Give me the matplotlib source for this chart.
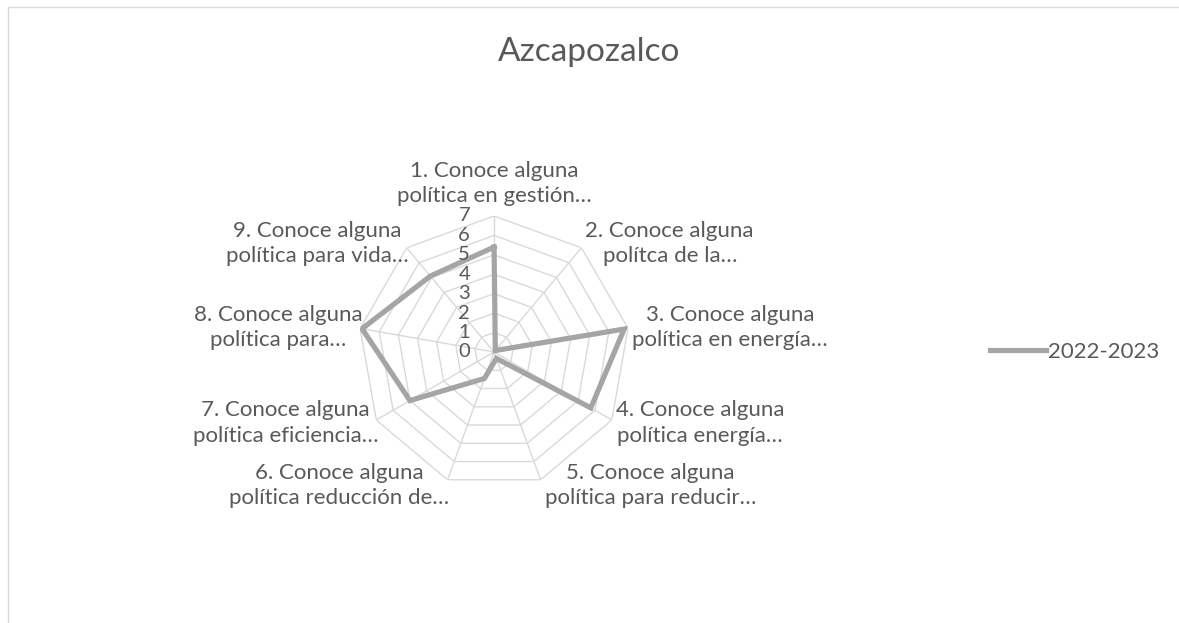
import numpy as np
import matplotlib.pyplot as plt

# data
categories = [
    "1. Conoce alguna\npolítica en gestión…",
    "2. Conoce alguna\npolítca de la…",
    "3. Conoce alguna\npolítica en energía…",
    "4. Conoce alguna\npolítica energía…",
    "5. Conoce alguna\npolítica para reducir…",
    "6. Conoce alguna\npolítica reducción de…",
    "7. Conoce alguna\npolítica eficiencia…",
    "8. Conoce alguna\npolítica para…",
    "9. Conoce alguna\npolítica para vida…",
]
values_2022 = [5.4, 0.1, 6.8, 5.75, 0.35, 1.45, 5.0, 6.9, 5.1]
series_name = "2022-2023"
ticks = [0, 1, 2, 3, 4, 5, 6, 7]

text_col = "#595959"
grid_col = "#d9d9d9"
line_col = "#a5a5a5"
plt.rcParams['font.family'] = ['Lato', 'DejaVu Sans']

fig = plt.figure(figsize=(11.79, 6.23), dpi=100)

# chart frame
fig.patches.append(plt.Rectangle((8 / 1179, -0.1), 1.2, 1 - 7 / 623 + 0.1,
                                 transform=fig.transFigure, fill=False,
                                 edgecolor=grid_col, lw=1))

fig.text(0.5, 1 - 52 / 623, "Azcapozalco", ha="center", va="center",
         fontsize=24, color=text_col)

ax = fig.add_axes([0.3037, 0.2167, 0.2307, 0.4366], projection="polar")
ax.set_theta_offset(np.pi / 2)
ax.set_theta_direction(-1)
ax.set_ylim(0, 7)
ax.grid(False)
ax.spines["polar"].set_visible(False)
ax.set_xticks([])
ax.set_yticks([])
ax.patch.set_alpha(0)

n = len(categories)
angles = np.arange(n) * 2 * np.pi / n
closed = np.append(angles, angles[0])

# polygon grid
for t in ticks[1:]:
    ax.plot(closed, [t] * (n + 1), color=grid_col, lw=1.0, zorder=1)
for a in angles:
    ax.plot([a, a], [0, ticks[-1]], color=grid_col, lw=1.0, zorder=1)

# series
vals = values_2022 + values_2022[:1]
ax.plot(closed, vals, color=line_col, lw=3.75, solid_joinstyle="miter",
        zorder=3, label=series_name)

# radial tick labels
for t in ticks:
    ax.annotate(str(t), xy=(0, t), xytext=(-24, 0), textcoords="offset pixels",
                ha="right", va="center", fontsize=14.5, color=text_col)

# category labels
for a, lab in zip(angles, categories):
    s, c = np.sin(a), np.cos(a)
    if abs(s) < 0.2:
        ha, va, off = "center", "bottom", (0, 10)
    elif s > 0:
        ha, va, off = "left", "center", (4, 6 * c)
    else:
        ha, va, off = "right", "center", (2, 6 * c)
    ax.annotate(lab, xy=(a, 7), xytext=off, textcoords="offset pixels",
                ha=ha, va=va, multialignment="center", fontsize=16,
                color=text_col, linespacing=1.33)

fig.legend(loc="center left", bbox_to_anchor=(990 / 1179, 1 - 352 / 623),
           frameon=False, fontsize=16, handlelength=2.5, handletextpad=0.1,
           borderaxespad=0, borderpad=0, labelcolor=text_col)

fig.savefig("out.png", dpi=100)
